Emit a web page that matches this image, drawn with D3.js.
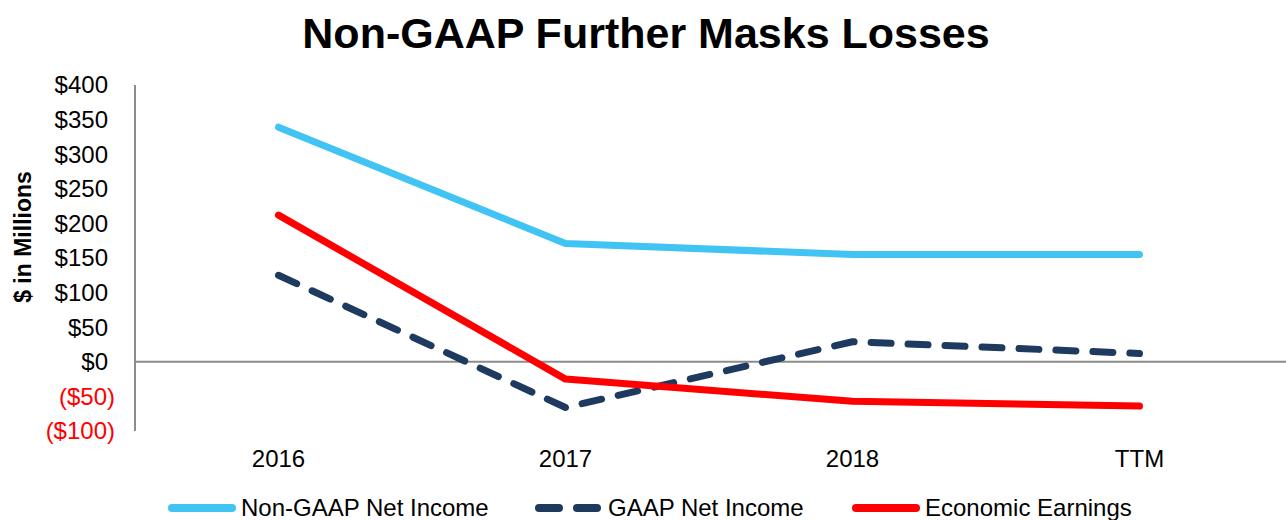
<!DOCTYPE html>
<html>
<head>
<meta charset="utf-8">
<script src="https://cdn.jsdelivr.net/npm/d3@7"></script>
<style>
  body { margin: 0; background: #fff; }
  text { font-family: "Liberation Sans", Arial, sans-serif; }
</style>
</head>
<body>
<div id="chart"></div>
<script>
var categories = ["2016", "2017", "2018", "TTM"];
var nonGaap = [339, 171, 155, 155];
var gaap = [125, -66, 29, 12];
var economic = [212, -25, -57, -64];
var yTicks = [400, 350, 300, 250, 200, 150, 100, 50, 0, -50, -100];

var total_width = 1286, total_height = 520;
var margin = {top: 85, right: 2, bottom: 89, left: 135},
    width = total_width - margin.left - margin.right,
    height = total_height - margin.top - margin.bottom;

var svg = d3.select("#chart").append("svg")
    .attr("width", total_width)
    .attr("height", total_height);

svg.append("text")
    .attr("x", 646)
    .attr("y", 48)
    .attr("text-anchor", "middle")
    .style("font-size", "43px")
    .style("font-weight", "bold")
    .text("Non-GAAP Further Masks Losses");

var g = svg.append("g")
    .attr("transform", "translate(" + margin.left + "," + margin.top + ")");

var x = d3.scaleBand().domain(categories).range([0, 1148]);
var y = d3.scaleLinear().domain([-100, 400]).range([height, 0]);

function fmt(v) {
  return v < 0 ? "($" + Math.abs(v) + ")" : "$" + v;
}

// y axis labels (negatives sit a bit further right, like Excel's "_)" padding)
g.selectAll(".ytick")
  .data(yTicks)
  .enter().append("text")
    .attr("x", d => d < 0 ? -20 : -27)
    .attr("y", d => y(d))
    .attr("dy", "0.35em")
    .attr("text-anchor", "end")
    .attr("fill", d => d < 0 ? "#ff0000" : "#000")
    .style("font-size", "24px")
    .text(fmt);

// axis line
g.append("line")
    .attr("x1", 0).attr("x2", 0)
    .attr("y1", 0).attr("y2", height)
    .attr("stroke", "#8c8c8c").attr("stroke-width", 2);

// zero line
g.append("line")
    .attr("x1", 0).attr("x2", total_width - margin.left)
    .attr("y1", y(0)).attr("y2", y(0))
    .attr("stroke", "#8c8c8c").attr("stroke-width", 2);

// x labels
g.selectAll(".xtick")
  .data(categories)
  .enter().append("text")
    .attr("x", d => x(d) + x.bandwidth() / 2)
    .attr("y", 467 - margin.top)
    .attr("text-anchor", "middle")
    .style("font-size", "24px")
    .text(d => d);

// y title
svg.append("text")
    .attr("transform", "translate(31,237) rotate(-90)")
    .attr("text-anchor", "middle")
    .style("font-size", "23px")
    .style("font-weight", "bold")
    .text("$ in Millions");

var series = [
  {name: "Non-GAAP Net Income", values: nonGaap, color: "#41c4f4", dash: null},
  {name: "GAAP Net Income", values: gaap, color: "#1f3a5f", dash: "20,17"},
  {name: "Economic Earnings", values: economic, color: "#ff0000", dash: null}
];

var line = d3.line()
    .x((d, i) => x(categories[i]) + x.bandwidth() / 2)
    .y(d => y(d));

series.forEach(function(s) {
  g.append("path")
      .datum(s.values)
      .attr("fill", "none")
      .attr("stroke", s.color)
      .attr("stroke-width", 7)
      .attr("stroke-linecap", "round")
      .attr("stroke-linejoin", "round")
      .attr("stroke-dasharray", s.dash)
      .attr("d", line);
});

// legend
var legendX = [168, 535, 852];
var legend = svg.append("g").attr("transform", "translate(0,508)");
series.forEach(function(s, i) {
  legend.append("line")
      .attr("x1", legendX[i] + 4).attr("x2", legendX[i] + 64)
      .attr("y1", 0).attr("y2", 0)
      .attr("stroke", s.color)
      .attr("stroke-width", 8)
      .attr("stroke-linecap", "round")
      .attr("stroke-dasharray", s.dash ? "20,18" : null);
  legend.append("text")
      .attr("x", legendX[i] + 73)
      .attr("y", 0)
      .attr("dy", "0.35em")
      .style("font-size", "24px")
      .text(s.name);
});
</script>
</body>
</html>
